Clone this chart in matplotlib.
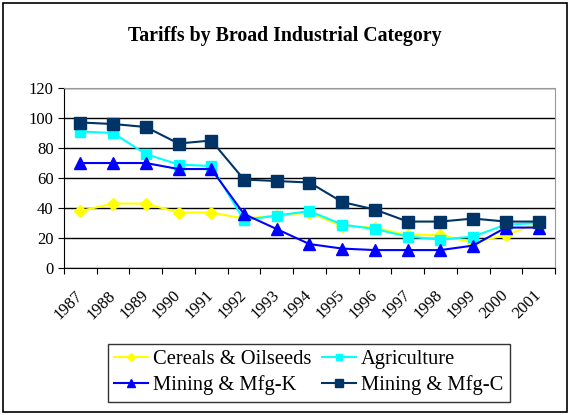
import matplotlib.pyplot as plt
import matplotlib.patches as patches
import matplotlib.transforms as mtrans

years = [str(y) for y in range(1987, 2002)]
cereals = [38, 43, 43, 37, 37, 33, 35, 37, 28, 27, 22, 22, 17, 22, 30]
agriculture = [91, 90, 76, 69, 68, 32, 35, 38, 29, 26, 21, 19, 21, 29, 30]
mining_k = [70, 70, 70, 66, 66, 36, 26, 16, 13, 12, 12, 12, 15, 27, 27]
mining_c = [97, 96, 94, 83, 85, 59, 58, 57, 44, 39, 31, 31, 33, 31, 31]

plt.rcParams['font.family'] = ['Liberation Serif', 'DejaVu Serif']

fig = plt.figure(figsize=(5.71, 4.15), dpi=100)
ax = fig.add_axes([0.112, 0.354, 0.860, 0.434])

x = range(len(years))
l1, = ax.plot(x, cereals, color="#FFFF00", marker="D", markersize=6, lw=1.5, label="Cereals & Oilseeds")
l2, = ax.plot(x, agriculture, color="#00FFFF", marker="s", markersize=7, lw=1.5, label="Agriculture")
l3, = ax.plot(x, mining_k, color="#0000FF", marker="^", markersize=8, lw=1.5, label="Mining & Mfg-K")
l4, = ax.plot(x, mining_c, color="#003366", marker="s", markersize=8, lw=1.5, label="Mining & Mfg-C")

ax.set_xlim(-0.5, len(years) - 0.5)
ax.set_ylim(0, 120)
ax.set_yticks(range(0, 121, 20))
ax.set_xticks([i - 0.5 for i in range(len(years) + 1)], minor=False)
ax.set_xticklabels([])
ax.set_xticks(list(x), minor=True)
ax.set_xticklabels(years, minor=True, rotation=45, ha="right", va="center",
                   rotation_mode="anchor", fontsize=12)
# labels sit a little left of the category centre, like Excel does
shift = mtrans.ScaledTranslation(-7 / 100, 0, fig.dpi_scale_trans)
for lab in ax.get_xticklabels(minor=True):
    lab.set_transform(lab.get_transform() + shift)
ax.tick_params(axis="x", which="minor", length=0, pad=18)
ax.tick_params(axis="x", which="major", length=4, direction="out")
ax.tick_params(axis="y", labelsize=12, length=4)
ax.grid(axis="y", color="black", lw=1)
ax.set_axisbelow(True)
for s in ["top", "right"]:
    ax.spines[s].set_color("#999999")
for s in ["left", "bottom"]:
    ax.spines[s].set_color("black")

fig.text(0.498, 0.913, "Tariffs by Broad Industrial Category", ha="center", va="center",
         fontsize=14.3, fontweight="bold")

leg = fig.legend([l1, l3, l2, l4], [l1.get_label(), l3.get_label(), l2.get_label(), l4.get_label()],
                 loc="center", bbox_to_anchor=(0.541, 0.102), ncol=2, fontsize=14.8,
                 frameon=True, fancybox=False, edgecolor="black", handlelength=1.65,
                 columnspacing=0.5, handletextpad=0.25, borderpad=0.3, labelspacing=0.3,
                 markerscale=0.7)
leg.get_frame().set_linewidth(1)

fig.patches.append(patches.Rectangle((0.005, 0.008), 0.988, 0.985, transform=fig.transFigure,
                                     fill=False, edgecolor="black", lw=1.2))

fig.savefig("out.png", dpi=100)
